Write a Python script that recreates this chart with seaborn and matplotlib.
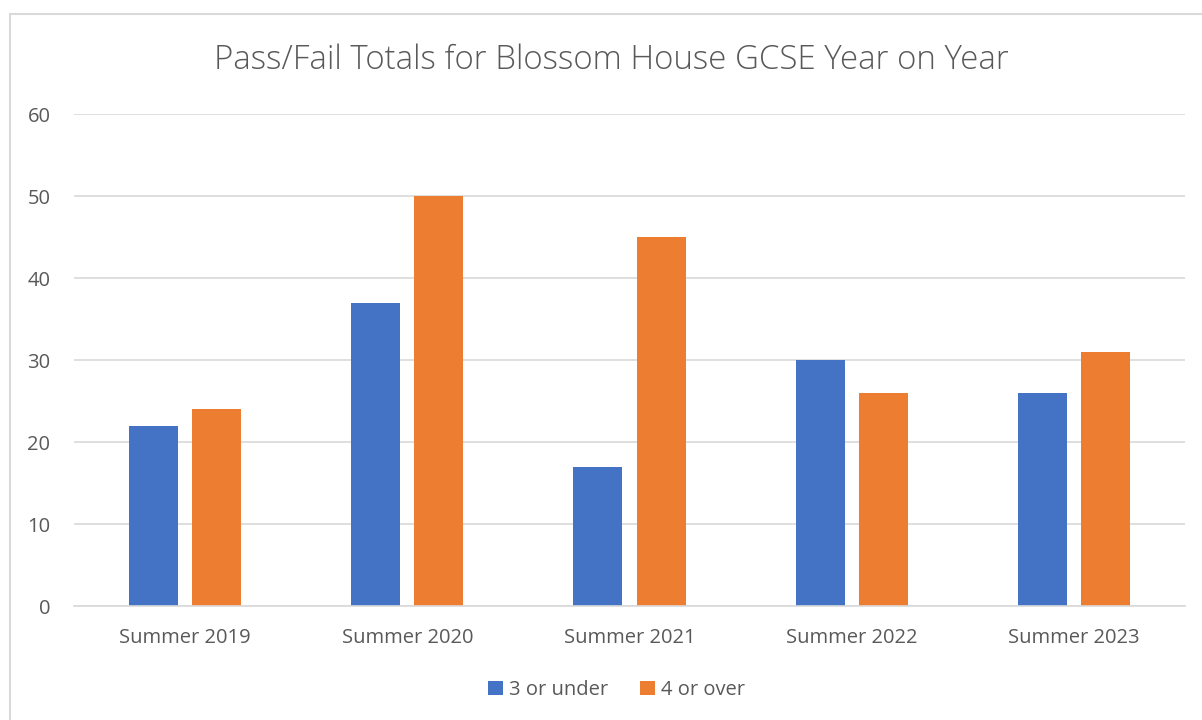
import matplotlib
matplotlib.use("Agg")
import matplotlib.pyplot as plt
import seaborn as sns
import pandas as pd
from matplotlib.patches import Rectangle

categories = ["Summer 2019", "Summer 2020", "Summer 2021", "Summer 2022", "Summer 2023"]
series_names = ["3 or under", "4 or over"]
under3 = [22, 37, 17, 30, 26]
over4 = [24, 50, 45, 26, 31]
colors = ["#4472C4", "#ED7D31"]

df = pd.DataFrame({
    "Year": categories * 2,
    "Group": [series_names[0]] * len(categories) + [series_names[1]] * len(categories),
    "Value": under3 + over4,
})

sns.set_theme(style="white")
plt.rcParams['font.family'] = ['Open Sans', 'DejaVu Sans']
text_color = "#595959"

fig = plt.figure(figsize=(12.02, 7.2), dpi=100)
ax = fig.add_axes([74/1202, 1-606/720, (1185-74)/1202, (606-114)/720])

sns.barplot(data=df, x="Year", y="Value", hue="Group", palette=colors,
            width=0.568, gap=0.225, ax=ax, saturation=1, legend=True,
            linewidth=0, edgecolor="none")

ax.set_ylim(0, 60)
ax.set_xlim(-0.5, 4.5)
ax.set_yticks([0, 10, 20, 30, 40, 50, 60])
ax.yaxis.grid(True, color="#D9D9D9", linewidth=1.2)
ax.set_axisbelow(True)
for s in ["top", "right", "left"]:
    ax.spines[s].set_visible(False)
ax.spines["bottom"].set_color("#D9D9D9")
ax.spines["bottom"].set_linewidth(1.2)
ax.tick_params(axis="both", length=0, labelsize=14.5, colors=text_color)
ax.tick_params(axis="y", pad=17)
ax.tick_params(axis="x", pad=16)
ax.set_xlabel("")
ax.set_ylabel("")

fig.text(0.509, 1-60/720, "Pass/Fail Totals for Blossom House GCSE Year on Year",
         ha="center", va="center", fontsize=23.8, color=text_color, fontweight="light")

handles, labels = ax.get_legend_handles_labels()
ax.legend(handles, labels, loc="center", bbox_to_anchor=(0.513, 1-690/720), bbox_transform=fig.transFigure,
          ncol=2, frameon=False, fontsize=14.5, labelcolor=text_color,
          handlelength=0.75, handleheight=0.75, handletextpad=0.3, columnspacing=1.6)

fig.patches.append(Rectangle((10/1202, -0.1), 1.2, 0.1 + 1-14/720, transform=fig.transFigure,
                             fill=False, edgecolor="#D9D9D9", linewidth=1.5, zorder=-1))

fig.savefig("out.png", dpi=100, facecolor="white")
